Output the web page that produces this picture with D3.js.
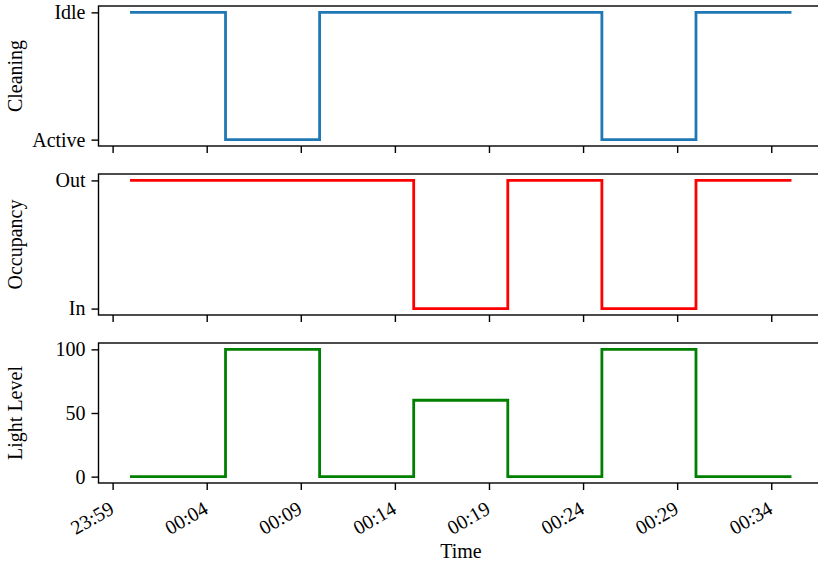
<!DOCTYPE html>
<html>
<head>
<meta charset="utf-8">
<script src="https://cdn.jsdelivr.net/npm/d3@7"></script>
<style>
  body { margin: 0; background: #fff; }
  svg { display: block; }
  text { font-family: "Liberation Serif", "DejaVu Serif", serif; fill: #000; }
</style>
</head>
<body>
<svg id="chart" width="818" height="561"></svg>
<script>
// sample times (minutes after midnight), values hold until the next sample
var minutes = [0, 5, 10, 15, 20, 25, 30, 35];
var cleaning = [1, 0, 1, 1, 1, 0, 1, 1];          // 1 = Idle, 0 = Active
var occupancy = [1, 1, 1, 0, 1, 0, 1, 1];         // 1 = Out, 0 = In
var light = [0, 100, 0, 60, 0, 100, 0, 0];
var tickMinutes = [-1, 4, 9, 14, 19, 24, 29, 34];
var tickLabels = ["23:59", "00:04", "00:09", "00:14", "00:19", "00:24", "00:29", "00:34"];

var base = new Date(2024, 0, 2, 0, 0, 0);
function at(m) { return new Date(base.getTime() + m * 60000); }

var svg = d3.select("#chart"),
    left = 98.5, right = 823;

var x = d3.scaleTime()
    .domain([at(-1.75), at(36.75)])
    .range([left, right]);

var panels = [
  {values: cleaning, color: "#1f77b4", top: 6, bottom: 146, domain: [-0.05, 1.05],
   ticks: [0, 1], labels: ["Active", "Idle"], title: "Cleaning"},
  {values: occupancy, color: "#ff0000", top: 174, bottom: 315, domain: [-0.05, 1.05],
   ticks: [0, 1], labels: ["In", "Out"], title: "Occupancy"},
  {values: light, color: "#008000", top: 343, bottom: 483, domain: [-5, 105],
   ticks: [0, 50, 100], labels: ["0", "50", "100"], title: "Light Level"}
];

panels.forEach(function (p, pi) {
  var g = svg.append("g").attr("class", "panel"),
      y = d3.scaleLinear().domain(p.domain).range([p.bottom, p.top]);

  var pts = minutes.map(function (m, i) { return [at(m), p.values[i]]; });
  var line = d3.line()
      .x(function (d) { return x(d[0]); })
      .y(function (d) { return y(d[1]); })
      .curve(d3.curveStepAfter);

  g.append("path").datum(pts)
    .attr("d", line)
    .attr("fill", "none")
    .attr("stroke", p.color)
    .attr("stroke-width", 2.8)
    .attr("stroke-linejoin", "miter")
    .attr("stroke-linecap", "square");

  // frame: left, top, bottom (right edge falls outside the picture)
  g.append("rect")
    .attr("x", left).attr("y", p.top)
    .attr("width", right - left).attr("height", p.bottom - p.top)
    .attr("fill", "none").attr("stroke", "#000").attr("stroke-width", 1.4);

  var yAxis = d3.axisLeft(y)
      .tickValues(p.ticks)
      .tickFormat(function (d, i) { return p.labels[i]; })
      .tickSize(7).tickPadding(6);
  var ya = g.append("g").attr("transform", "translate(" + left + ",0)").call(yAxis);
  ya.select(".domain").remove();
  ya.selectAll("line").attr("stroke", "#000").attr("stroke-width", 1.4);
  ya.selectAll("text").attr("font-size", 20).attr("font-family", null);

  var xAxis = d3.axisBottom(x)
      .tickValues(tickMinutes.map(at))
      .tickFormat(function (d, i) { return pi === 2 ? tickLabels[i] : ""; })
      .tickSize(7).tickPadding(6);
  var xa = g.append("g").attr("transform", "translate(0," + p.bottom + ")").call(xAxis);
  xa.select(".domain").remove();
  xa.selectAll("line").attr("stroke", "#000").attr("stroke-width", 1.4);
  if (pi === 2) {
    xa.selectAll("text")
      .attr("font-size", 20).attr("font-family", null)
      .attr("text-anchor", "end")
      .attr("dy", "0.72em")
      .attr("y", 0)
      .attr("transform", "translate(-5,17) rotate(-30)");
  }

  svg.append("text")
    .attr("transform", "translate(22," + ((p.top + p.bottom) / 2) + ") rotate(-90)")
    .attr("text-anchor", "middle")
    .attr("font-size", 20)
    .text(p.title);
});

svg.append("text")
  .attr("x", 461)
  .attr("y", 558)
  .attr("text-anchor", "middle")
  .attr("font-size", 20)
  .text("Time");
</script>
</body>
</html>
